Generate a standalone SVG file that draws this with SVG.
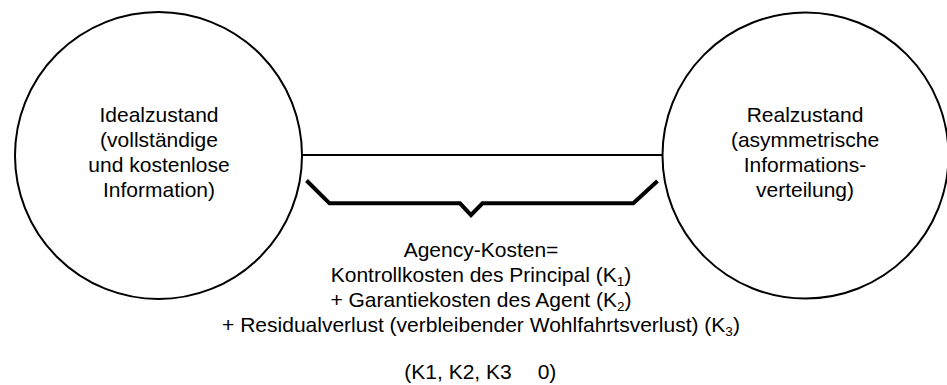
<svg xmlns="http://www.w3.org/2000/svg" width="947" height="385" viewBox="0 0 947 385">
<style>
.node{fill:#fff;stroke:#000;stroke-width:2}
.t{font-family:"Liberation Sans",Arial,sans-serif;font-size:21px;fill:#000;text-anchor:middle}
.sub{font-size:13.5px}
.link{fill:none;stroke:#000;stroke-width:2}
.brace{fill:none;stroke:#000;stroke-width:4;stroke-linejoin:miter}
</style>
<rect width="947" height="385" fill="#fff"/>
<g id="connectors">
<line class="link" x1="302" y1="155" x2="663" y2="155"/>
<polyline class="brace" points="306.5,180.5 329.5,203.3 460,203.3 471,215 482.5,203.3 633.3,203.3 657.5,181"/>
</g>
<g id="ideal">
<circle class="node" cx="158.5" cy="155.5" r="143.5"/>
<text class="t"><tspan x="159" y="122">Idealzustand</tspan><tspan x="159" y="147">(vollständige</tspan><tspan x="159" y="172">und kostenlose</tspan><tspan x="159" y="197">Information)</tspan></text>
</g>
<g id="real">
<circle class="node" cx="805.5" cy="155.5" r="143"/>
<text class="t"><tspan x="805" y="122">Realzustand</tspan><tspan x="805" y="147">(asymmetrische</tspan><tspan x="805" y="172">Informations-</tspan><tspan x="805" y="197">verteilung)</tspan></text>
</g>
<g id="costs">
<text class="t" x="481" y="256.5">Agency-Kosten=</text>
<text class="t" x="481" y="281.5">Kontrollkosten des Principal (K<tspan class="sub" dy="4">1</tspan><tspan dy="-4">)</tspan></text>
<text class="t" x="481" y="306.5">+ Garantiekosten des Agent (K<tspan class="sub" dy="4">2</tspan><tspan dy="-4">)</tspan></text>
<text class="t" x="481" y="331.5">+ Residualverlust (verbleibender Wohlfahrtsverlust) (K<tspan class="sub" dy="4">3</tspan><tspan dy="-4">)</tspan></text>
<text class="t" x="458" y="378.5">(K1, K2, K3</text>
<text class="t" x="547" y="378.5">0)</text>
</g>
</svg>
